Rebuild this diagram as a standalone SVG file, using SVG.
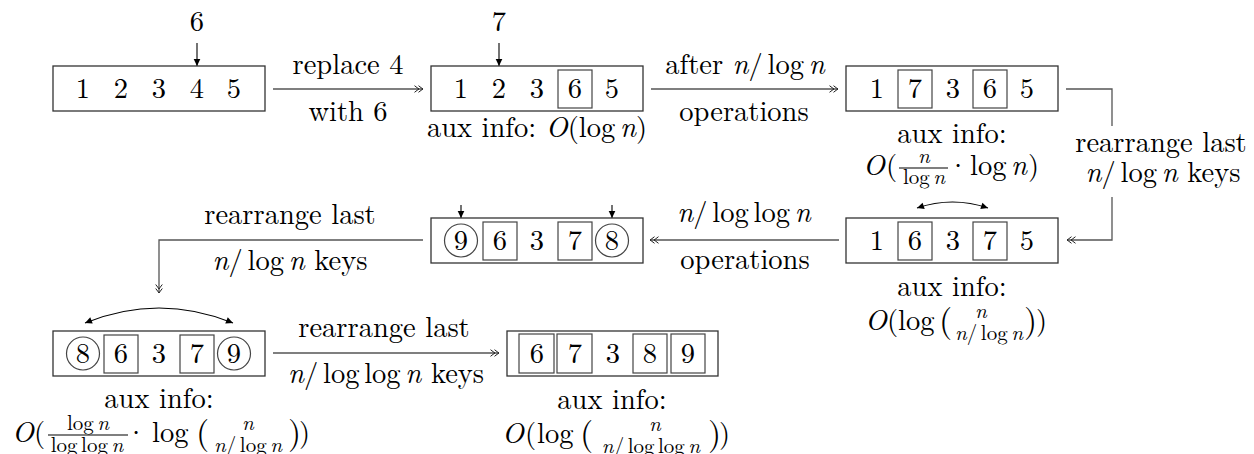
<svg xmlns="http://www.w3.org/2000/svg" width="1254" height="454" viewBox="0 0 1254 454" font-family="Latin Modern Roman, Liberation Serif, serif">
<defs>
<style>
.t{font-size:28.5px;fill:#000}
.i{font-style:italic}
.s{font-size:21px}
.b{font-size:34px}
.m{text-anchor:middle}
.box{fill:#fff;stroke:#333;stroke-width:1.3}
.in{fill:none;stroke:#444;stroke-width:1.2}
.edge{fill:none;stroke:#555;stroke-width:1.3}
.ptr{fill:none;stroke:#000;stroke-width:1.1}
.bar{stroke:#000;stroke-width:1.1}
</style>
<marker id="two" viewBox="-10 -5 12 10" refX="0" refY="0" markerWidth="12" markerHeight="10" markerUnits="userSpaceOnUse" orient="auto">
<path d="M-4.5,-3.3 Q-1.5,-1 0,0 Q-1.5,1 -4.5,3.3 M-8.5,-3.3 Q-5.5,-1 -4,0 Q-5.5,1 -8.5,3.3" fill="none" stroke="#222" stroke-width="1"/>
</marker>
<marker id="tri" viewBox="-8 -4 9 8" refX="0" refY="0" markerWidth="9" markerHeight="8" markerUnits="userSpaceOnUse" orient="auto-start-reverse">
<path d="M-7,-3.3 L0,0 L-7,3.3 z" fill="#000"/>
</marker>
</defs>
<rect width="1254" height="454" fill="#fff"/>

<g id="connectors">
<path class="edge" d="M273,89 H423" marker-end="url(#two)"/>
<path class="edge" d="M651,89 H838" marker-end="url(#two)"/>
<path class="edge" d="M1066,89 H1112 V126 M1112,197 V240 H1067" marker-end="url(#two)"/>
<path class="edge" d="M839,240 H650" marker-end="url(#two)"/>
<path class="edge" d="M423,240 H159 V293" marker-end="url(#two)"/>
<path class="edge" d="M273,353 H499" marker-end="url(#two)"/>
</g>

<g id="edge-labels">
<text class="t m" x="348" y="74">replace 4</text>
<text class="t m" x="348" y="121">with 6</text>
<text class="t m" x="745" y="74">after <tspan class="i">n</tspan>/<tspan dx="4.75">log</tspan><tspan class="i" dx="4.75">n</tspan></text>
<text class="t m" x="744" y="121">operations</text>
<text class="t m" x="1161" y="152">rearrange last</text>
<text class="t m" x="1163" y="182"><tspan class="i">n</tspan>/<tspan dx="4.75">log</tspan><tspan class="i" dx="4.75">n</tspan> keys</text>
<text class="t m" x="744" y="222"><tspan class="i">n</tspan>/<tspan dx="4.75">log</tspan><tspan dx="4.75">log</tspan><tspan class="i" dx="4.75">n</tspan></text>
<text class="t m" x="745" y="269">operations</text>
<text class="t m" x="290" y="224">rearrange last</text>
<text class="t m" x="290" y="270"><tspan class="i">n</tspan>/<tspan dx="4.75">log</tspan><tspan class="i" dx="4.75">n</tspan> keys</text>
<text class="t m" x="384" y="337">rearrange last</text>
<text class="t m" x="386" y="383"><tspan class="i">n</tspan>/<tspan dx="4.75">log</tspan><tspan dx="4.75">log</tspan><tspan class="i" dx="4.75">n</tspan> keys</text>
</g>

<g id="node1">
<text class="t m" x="197" y="31">6</text>
<path class="ptr" d="M197,43 V66" marker-end="url(#tri)"/>
<rect class="box" x="53" y="66" width="212" height="45"/>
<text class="t m" x="83" y="98">1</text>
<text class="t m" x="121" y="98">2</text>
<text class="t m" x="159" y="98">3</text>
<text class="t m" x="197" y="98">4</text>
<text class="t m" x="234" y="98">5</text>
</g>

<g id="node2">
<text class="t m" x="499" y="31">7</text>
<path class="ptr" d="M499,43 V66" marker-end="url(#tri)"/>
<rect class="box" x="431" y="66" width="212" height="45"/>
<rect class="in" x="558" y="70" width="34" height="38"/>
<text class="t m" x="461" y="98">1</text>
<text class="t m" x="499" y="98">2</text>
<text class="t m" x="537" y="98">3</text>
<text class="t m" x="575" y="98">6</text>
<text class="t m" x="612" y="98">5</text>
<text class="t m" x="537" y="137">aux info: <tspan class="i">O</tspan>(log<tspan class="i" dx="4.75">n</tspan>)</text>
</g>

<g id="node3">
<rect class="box" x="846" y="66" width="212" height="45"/>
<rect class="in" x="898" y="70" width="34" height="38"/>
<rect class="in" x="973" y="70" width="34" height="38"/>
<text class="t m" x="877" y="98">1</text>
<text class="t m" x="915" y="98">7</text>
<text class="t m" x="953" y="98">3</text>
<text class="t m" x="990" y="98">6</text>
<text class="t m" x="1027" y="98">5</text>
<text class="t m" x="952" y="143">aux info:</text>
<text class="t i" x="863" y="175">O</text>
<text class="t" x="886" y="175">(</text>
<line class="bar" x1="899" y1="168" x2="948" y2="168"/>
<text class="t s i m" x="924" y="163">n</text>
<text class="t s m" x="924" y="184">log<tspan class="i" dx="3.5">n</tspan></text>
<text class="t m" x="958" y="175">·</text>
<text class="t" x="970" y="175">log</text>
<text class="t i" x="1011" y="175">n</text>
<text class="t" x="1028" y="175">)</text>
</g>

<g id="node4">
<path class="ptr" d="M917,208 Q952.5,196 988,208" marker-start="url(#tri)" marker-end="url(#tri)"/>
<rect class="box" x="846" y="218" width="212" height="45"/>
<rect class="in" x="898" y="222" width="34" height="38"/>
<rect class="in" x="973" y="222" width="34" height="38"/>
<text class="t m" x="877" y="250">1</text>
<text class="t m" x="915" y="250">6</text>
<text class="t m" x="953" y="250">3</text>
<text class="t m" x="990" y="250">7</text>
<text class="t m" x="1027" y="250">5</text>
<text class="t m" x="952" y="296">aux info:</text>
<text class="t i" x="865" y="330">O</text>
<text class="t" x="887" y="330">(</text>
<text class="t" x="898" y="330">log</text>
<text class="t b" x="939" y="332">(</text>
<text class="t s i m" x="981" y="318">n</text>
<text class="t s m" x="989" y="340"><tspan class="i">n</tspan>/<tspan dx="3.5">log</tspan><tspan class="i" dx="3.5">n</tspan></text>
<text class="t b" x="1024" y="332">)</text>
<text class="t" x="1036" y="330">)</text>
</g>

<g id="node5">
<path class="ptr" d="M461,205 V218" marker-end="url(#tri)"/>
<path class="ptr" d="M612,205 V218" marker-end="url(#tri)"/>
<rect class="box" x="431" y="218" width="212" height="45"/>
<circle class="in" cx="461" cy="240.5" r="16.5"/>
<rect class="in" x="483" y="222" width="34" height="38"/>
<rect class="in" x="558" y="222" width="34" height="38"/>
<circle class="in" cx="612" cy="240.5" r="16.5"/>
<text class="t m" x="461" y="250">9</text>
<text class="t m" x="500" y="250">6</text>
<text class="t m" x="537" y="250">3</text>
<text class="t m" x="575" y="250">7</text>
<text class="t m" x="612" y="250">8</text>
</g>

<g id="node6">
<path class="ptr" d="M85,323 Q159,293 233,323" marker-start="url(#tri)" marker-end="url(#tri)"/>
<rect class="box" x="53" y="331" width="212" height="45"/>
<circle class="in" cx="83" cy="353.5" r="16.5"/>
<rect class="in" x="104" y="335" width="34" height="38"/>
<rect class="in" x="180" y="335" width="34" height="38"/>
<circle class="in" cx="234" cy="353.5" r="16.5"/>
<text class="t m" x="83" y="363">8</text>
<text class="t m" x="121" y="363">6</text>
<text class="t m" x="159" y="363">3</text>
<text class="t m" x="197" y="363">7</text>
<text class="t m" x="234" y="363">9</text>
<text class="t m" x="159" y="408">aux info:</text>
<text class="t i" x="12" y="442">O</text>
<text class="t" x="34" y="442">(</text>
<line class="bar" x1="48" y1="435" x2="128" y2="435"/>
<text class="t s m" x="88" y="430">log<tspan class="i" dx="3.5">n</tspan></text>
<text class="t s m" x="87" y="452">log<tspan dx="3.5">log</tspan><tspan class="i" dx="3.5">n</tspan></text>
<text class="t m" x="136" y="442">·</text>
<text class="t" x="152" y="442">log</text>
<text class="t b" x="196" y="444">(</text>
<text class="t s i m" x="248" y="430">n</text>
<text class="t s m" x="248" y="452"><tspan class="i">n</tspan>/<tspan dx="3.5">log</tspan><tspan class="i" dx="3.5">n</tspan></text>
<text class="t b" x="288" y="444">)</text>
<text class="t" x="299" y="442">)</text>
</g>

<g id="node7">
<rect class="box" x="507" y="331" width="211" height="45"/>
<rect class="in" x="519" y="334" width="35" height="39"/>
<rect class="in" x="557" y="334" width="35" height="39"/>
<rect class="in" x="633" y="334" width="34" height="39"/>
<rect class="in" x="671" y="334" width="34" height="39"/>
<text class="t m" x="537" y="363">6</text>
<text class="t m" x="575" y="363">7</text>
<text class="t m" x="613" y="363">3</text>
<text class="t m" x="650" y="363">8</text>
<text class="t m" x="688" y="363">9</text>
<text class="t m" x="612" y="409">aux info:</text>
<text class="t i" x="502" y="443">O</text>
<text class="t" x="525" y="443">(</text>
<text class="t" x="537" y="443">log</text>
<text class="t b" x="580" y="445">(</text>
<text class="t s i m" x="655" y="431">n</text>
<text class="t s m" x="651" y="453"><tspan class="i">n</tspan>/<tspan dx="3.5">log</tspan><tspan dx="3.5">log</tspan><tspan class="i" dx="3.5">n</tspan></text>
<text class="t b" x="708" y="445">)</text>
<text class="t" x="719" y="443">)</text>
</g>
</svg>
